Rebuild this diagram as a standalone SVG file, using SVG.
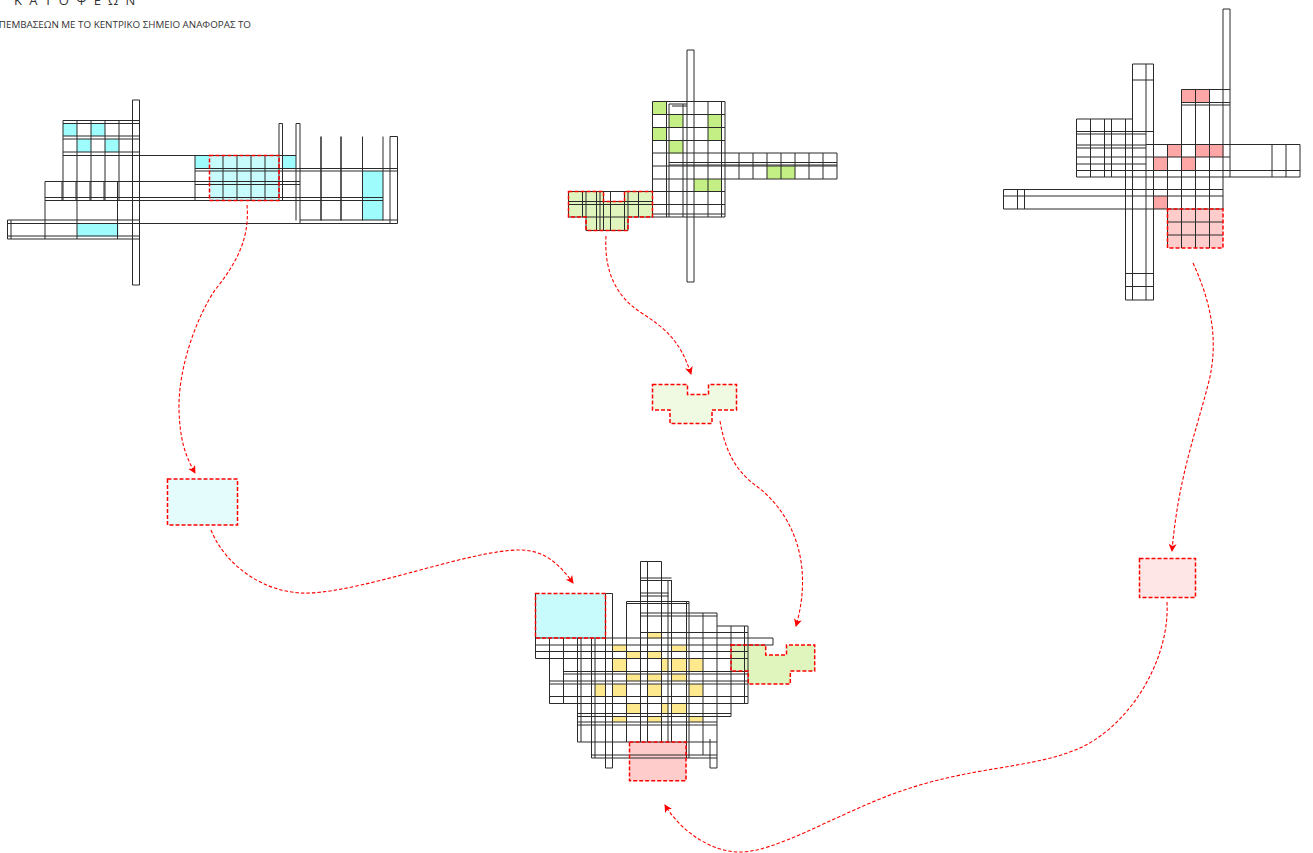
<svg xmlns="http://www.w3.org/2000/svg" width="1313" height="853" viewBox="0 0 1313 853">
<style>
.g{fill:none;stroke:#2a2a2a;stroke-width:1}
.d{stroke:#f00;stroke-width:1.500;stroke-dasharray:4 2}
.c{fill:none;stroke:#f00;stroke-width:1.100;stroke-dasharray:3.500 2}
.b{fill:#9ffcfc}.gr{fill:#c3ef85}.p{fill:#ffa6a6}.y{fill:#ffe98f}
text{font-family:"Open Sans","Noto Sans","Liberation Sans",sans-serif;fill:#333}
</style>
<defs><marker id="a" viewBox="0 0 8 8" refX="7" refY="4" markerWidth="8" markerHeight="8" markerUnits="userSpaceOnUse" orient="auto"><path d="M0 0L8 4L0 8L2 4Z" fill="#f00"/></marker></defs>
<g id="titles">
<text x="14" y="5" font-size="13" letter-spacing="1.9">Κ Α Τ Ο Ψ Ε Ω Ν</text>
<text x="251" y="28" font-size="9.800" text-anchor="end">ΠΕΜΒΑΣΕΩΝ ΜΕ ΤΟ ΚΕΝΤΡΙΚΟ ΣΗΜΕΙΟ ΑΝΑΦΟΡΑΣ ΤΟ</text>
</g>
<g id="plan-blue">
<path class="b" d="M63 123h14v13H63zM91 123h14v13H91zM77 139h14v13H77zM105 139h14v13h-14zM77 223.500h41.500v13H77zM195 155.500h14.500v13H195zM282.500 155.500h13.500v13h-13.500zM362.500 171h20.500v49h-20.500z"/>
<rect x="209.500" y="155.500" width="69.500" height="45" fill="#c8fcfc"/>
<path class="g" d="M132.500 100h7v185h-7zM63 120.500h76M63 123.500h76M63 136h76M63 139h76M63 152h76M63 155.500h233M63 120.500V201M62 181.500V201M77 120.500V239M76 181.500V201M91 120.500V201M90 181.500V201M105 120.500V201M104 181.500V201M119 120.500V201M117.500 181.500V239M45 181.500h255M45 197.500h338M45 200.500h338M45 181.500V239M7.500 220h132M7.500 223.500h390M7.500 236h132M7.500 239h132M7.500 220v19M11 220v19M195 155.500v45.500M195 168.500h202.500M195 171h202.500M195 184.500h105M223 155.500v45M237 155.500v45M251 155.500v45M265 155.500v45M279 123.500V201M282.500 123.500V201M279 123.500h3.500M296 123.500v97M300 123.500V223.500M296 123.500h4M362.500 136.500v84M383 136.500v84M390 136.500V223.500M397.500 136.500V223.500M390 136.500h7.500M300 220h97.500"/>
<path class="g" style="stroke-width:1.500" d="M321 136.500v84M341 136.500v84"/>
<rect class="d" x="209.500" y="155.500" width="69.500" height="45" fill="none"/>
</g>
<g id="plan-green">
<path class="gr" d="M652.500 101.500h14v13h-14zM669 114.500h14v13h-14zM708 114.500h14v13h-14zM652.500 127.500h14v13h-14zM708 127.500h14v13h-14zM669 140.500h14v13h-14zM694 179h28v13h-28zM767 166h28v13h-28z"/>
<path d="M568.500 191.500H603.500V201.500H624.500V191.500H652.500V217H628V230.500H586V217H568.500Z" fill="#dff5bd"/>
<path class="g" d="M687 50h7v232h-7zM652.500 101.500h72.500v115.500h-72.500zM652.500 114.500h72.500M652.500 127.500h72.500M652.500 140.500h72.500M652.500 153h184.500M652.500 166h184.500M652.500 179h184.500M568.500 191.500h156.500M568.500 204.500h156.500M652.500 214h72.500M568.500 201.500h84M568.500 217h84M586 230.500h42M666.500 101.500v115.500M669 104v113M669 104h18M672 106h15M683 104v113M708 101.500v115.500M721.500 101.500v115.500M669 162.500h168M669 165h168M739 153v26M753 153v26M767 153v26M781 153v26M795 153v26M809 153v26M823 153v26M837 153v26M568.500 191.500v25.500M582.500 191.500v25.500M586 191.500v39M596.500 191.500v39M600 191.500v39M603.500 191.500v39M610.500 191.500v39M624.500 191.500v39M628 191.500v39M638.500 191.500v25.500"/>
<path class="d" fill="none" d="M568.500 191.500H603.500V201.500H624.500V191.500H652.500V217H628V230.500H586V217H568.500Z"/>
</g>
<g id="plan-red">
<path class="p" d="M1181.500 89.500h28v13h-28zM1167.500 144.500h14v12.500h-14zM1195.500 144.500h28v12.500h-28zM1153.500 157h14v13.500h-14zM1181.500 157h14v13.500h-14zM1153.500 196h14v13h-14z"/>
<rect x="1167.500" y="209" width="55.500" height="39" fill="#ffcccc"/>
<path class="g" d="M1223 9h7v168M1223 9V209M1132.500 64h21v236h-28V119M1132.500 64V300M1146 64V300M1132.500 80h21M1125.500 273.500h28M1125.500 286.500h28M1076.500 119h56M1076.500 119v58M1090.500 119v58M1104.500 119v58M1111.500 119v58M1076.500 131.500h76.500M1076.500 134h69.500M1076.500 145h69.500M1076.500 148h69.500M1076.500 157h153.500M1076.500 164h69.500M1076.500 170.500h223.500M1076.500 177h223.500M1146 144.500h154M1300 144.500v32.500M1272 144.500v32.500M1286 144.500v32.500M1181.500 89.500h48.500M1181.500 102.500h48.500M1181.500 105h48.500M1181.500 89.500V209M1195.500 89.500V209M1209.500 89.500V209M1167.500 144.500V248M1003.500 189.500h219.500M1003.500 196h219.500M1003.500 209h219.500M1003.500 189.500V209M1017.500 189.500V209M1024.500 189.500V209M1167.500 222h55.500M1167.500 235h55.500M1181.500 209v39M1195.500 209v39M1209.500 209v39"/>
<rect class="d" x="1167.500" y="209" width="55.500" height="39" fill="none"/>
</g>
<g id="extract-blue"><rect class="d" x="167.500" y="479" width="70" height="46" fill="#e4fcfc"/></g>
<g id="extract-green"><path class="d" fill="#f0f9e2" d="M652.500 384.500H687.500V394.500H708.500V384.500H736.500V410H712V423.500H670V410H652.500Z"/></g>
<g id="extract-red"><rect class="d" x="1139.500" y="558.500" width="56" height="39" fill="#ffe6e6"/></g>
<g id="plan-combined">
<path class="y" d="M647.500 632.500h14v6h-14zM612 645h14.500v6.500H612zM626.500 651.500h14v7h-14zM647.500 651.500h14v7h-14zM671.500 645.500h15v6h-15zM671.500 658.500h15v13h-15zM612 658.500h14.500v13H612zM661.500 658.500h7v13h-7zM689 658.500h14v13h-14zM626.500 674h14v7h-14zM647.500 674h14v7h-14zM671.500 674h15v7h-15zM595 684h10.500v12.500H595zM612 684h14.500v12.500H612zM647.500 684h14v12.500h-14zM689 684h14v12.500h-14zM626.500 703.500h14v10h-14zM661.500 703.500h7v10h-7zM671.500 703.500h15v10h-15zM612 716h14.500v6H612zM647.500 716h14v6h-14zM689 716h14v6h-14z"/>
<rect x="535.500" y="593.500" width="70" height="44.500" fill="#c8fcfc"/>
<path d="M731 645H765.700V655H786.500V645H814.700V671H790.300V684H748.300V671H731Z" fill="#dff5bd"/>
<rect x="629.500" y="742" width="56.500" height="38.700" fill="#ffcccc"/>
<path class="g" d="M535.500 593.500V658.500M549.500 638V703.500M563.500 638V703.500M577.500 638V742M581 638V742M591.500 638V758M595 638V758M605.500 593.500V768H612.500V593.500H605.500M626.500 601.500V742M640.500 561.500V742M647.500 561.500V742M661.500 561.500V742M668 580V742M671.500 580V742M686.500 601.500V758M689 601.500V758M703 613V755M717 613V768H710V739M731 626V716.500M744.500 626V703.500M748 626V703.500M640.500 561.500h21M640.500 578h31M640.500 580.500h31M640.500 593h28M640.500 596h28M626.500 601.500h62.500M626.500 603.500h62.500M640.500 613h76.500M640.500 616h76.500M717 626h31M640.500 632.500h107.500M535.500 638h237.500V645M535.500 645h237.500M535.500 651.500h212.500M535.500 658.500h212.500M563.500 671.500h184.500M563.500 674h184.500M549.500 681h198.500M549.500 684h198.500M549.500 696.500h198.500M549.500 703.500h198.500M577.500 713.500h153.500M577.500 716.500h153.500M577.500 722h139.500M577.500 725h139.500M577.500 742h139.500M591.500 755h125.500M591.500 758h125.500"/>
<rect class="d" x="535.500" y="593.500" width="70" height="44.500" fill="none"/>
<path class="d" fill="none" d="M731 645H765.700V655H786.500V645H814.700V671H790.300V684H748.300V671H731Z"/>
<rect class="d" x="629.500" y="742" width="56.500" height="38.700" fill="none"/>
</g>
<g id="connectors">
<path class="c" marker-end="url(#a)" d="M247 205C250 240 235 265 215 290C195 320 178 370 179 410C180 440 185 455 195 473"/>
<path class="c" marker-end="url(#a)" d="M211 530C225 565 265 595 310 593C370 590 470 550 520 550C545 550 560 565 573 583"/>
<path class="c" marker-end="url(#a)" d="M606 236C604 270 615 295 640 312C665 328 680 340 691 374"/>
<path class="c" marker-end="url(#a)" d="M720 421C725 450 735 470 755 485C790 510 815 560 796 626"/>
<path class="c" marker-end="url(#a)" d="M1193 263C1210 300 1220 340 1208 385C1195 435 1178 480 1172 551"/>
<path class="c" marker-end="url(#a)" d="M1167 602C1170 660 1130 725 1080 748C1030 770 970 765 890 795C830 818 775 852 740 852C710 852 680 830 665 805"/>
</g>
</svg>
